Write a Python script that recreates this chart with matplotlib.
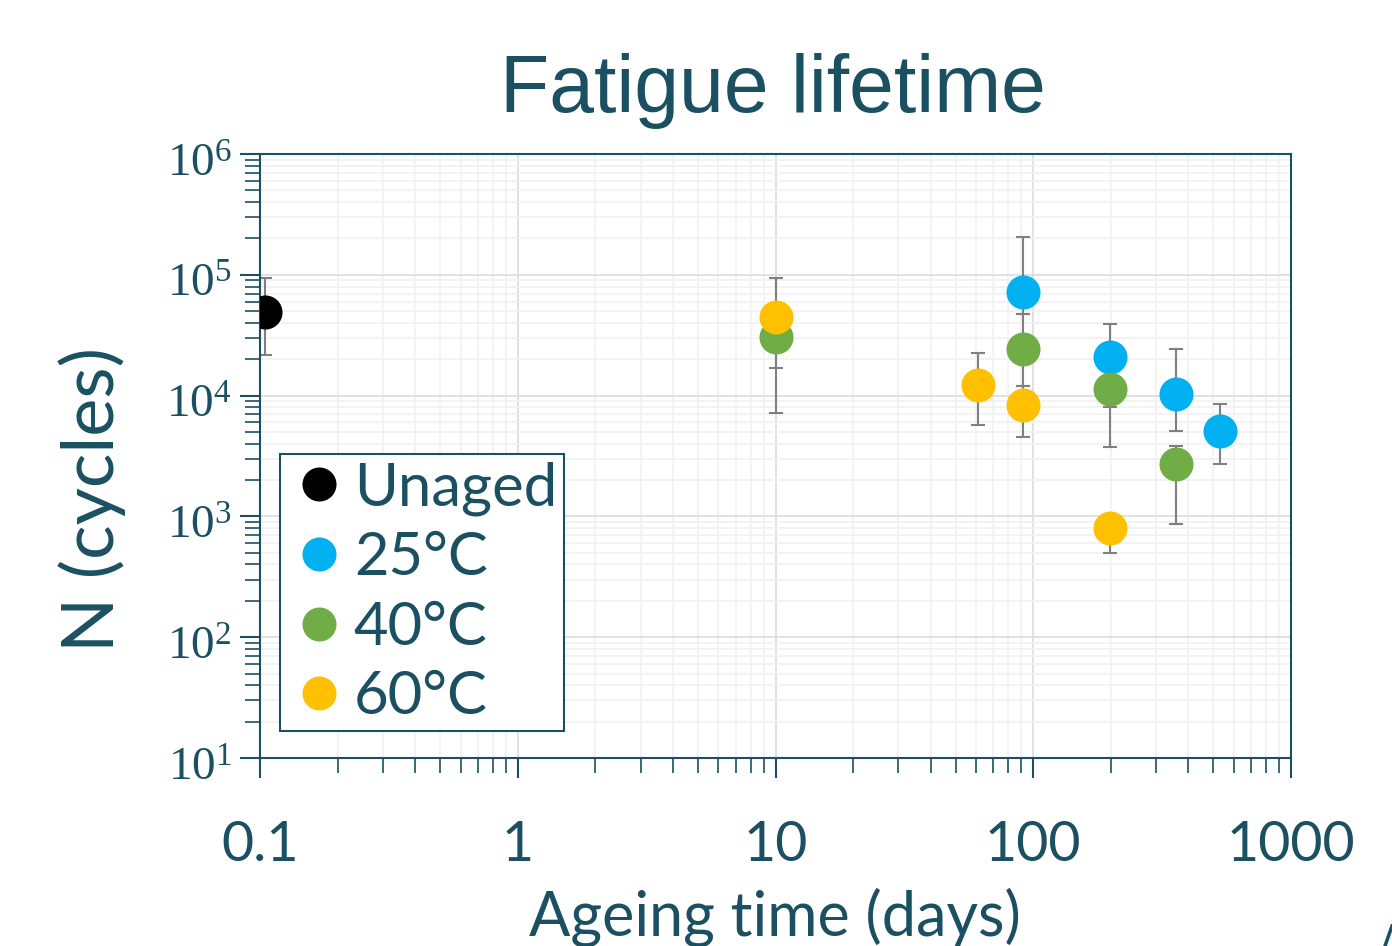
import matplotlib
matplotlib.use("Agg")
import matplotlib.pyplot as plt
import numpy as np
from matplotlib.lines import Line2D
from matplotlib.transforms import ScaledTranslation
from matplotlib.ticker import FixedLocator, FixedFormatter, LogLocator, NullFormatter

# ---------------- data ----------------
series_names = ["Unaged", "25°C", "40°C", "60°C"]
series_colors = ["#000000", "#00B0F0", "#70AD47", "#FFC000"]

unaged_x = [0.105]
unaged_y = [49000]
unaged_lo = [21500]
unaged_hi = [94500]

c25_x = [91, 198, 357, 530]
c25_y = [72000, 20700, 10400, 5060]
c25_lo = [47300, 8000, 5100, 2700]
c25_hi = [204000, 39200, 24400, 8570]

c40_x = [10, 91, 198, 357]
c40_y = [30400, 24200, 11300, 2700]
c40_lo = [7200, 12000, 3760, 870]
c40_hi = [93600, 47300, 19700, 3850]

c60_x = [10, 61, 91, 198]
c60_y = [44500, 12250, 8310, 796]
c60_lo = [16800, 5710, 4520, 494]
c60_hi = [93600, 22600, 12000, 900]

x_ticks = [0.1, 1, 10, 100, 1000]
x_tick_labels = ["0.1", "1", "10", "100", "1000"]
y_ticks = [1e1, 1e2, 1e3, 1e4, 1e5, 1e6]
y_tick_labels = [r"$\mathregular{10^{%d}}$" % e for e in range(1, 7)]

title_text = "Fatigue lifetime"
x_label = "Ageing time (days)"
y_label = "N (cycles)"

# ---------------- style ----------------
TEAL = "#1a5061"
W, H = 1392, 946
fig = plt.figure(figsize=(W / 100, H / 100), dpi=100)
ax = fig.add_axes([260 / W, 1 - 758 / H, 1031 / W, 604 / H])
ax.set_xscale("log")
ax.set_yscale("log")
ax.set_xlim(0.1, 1000)
ax.set_ylim(10, 1e6)

for s in ax.spines.values():
    s.set_color(TEAL)
    s.set_linewidth(1.5)

ax.xaxis.set_major_locator(FixedLocator(x_ticks))
ax.xaxis.set_major_formatter(FixedFormatter(x_tick_labels))
ax.xaxis.set_minor_locator(LogLocator(base=10, subs=np.arange(2, 10)))
ax.xaxis.set_minor_formatter(NullFormatter())
ax.yaxis.set_major_locator(FixedLocator(y_ticks))
ax.yaxis.set_major_formatter(FixedFormatter(y_tick_labels))
ax.yaxis.set_minor_locator(LogLocator(base=10, subs=np.arange(2, 10)))
ax.yaxis.set_minor_formatter(NullFormatter())

ax.tick_params(which="major", direction="out", length=14.4, width=1.5, color=TEAL)
ax.tick_params(which="minor", direction="out", length=10.8, width=1.2, color=TEAL)
ax.tick_params(axis="x", which="major", pad=30, labelsize=40, labelcolor=TEAL)
ax.tick_params(axis="y", which="major", pad=6, labelsize=34, labelcolor=TEAL)
for lab in ax.get_xticklabels():
    lab.set_family("Lato")
shift = ScaledTranslation(0, -6 / 100, fig.dpi_scale_trans)
for lab in ax.get_yticklabels():
    lab.set_family("Liberation Serif")
    lab.set_transform(lab.get_transform() + shift)

ax.set_axisbelow(True)
ax.grid(which="major", color="#dedede", linewidth=1.3)
ax.grid(which="minor", color="#f1f1f1", linewidth=1.2)

eb_kw = dict(fmt="none", ecolor="#808080", elinewidth=1.5, capsize=4.7, capthick=1.5, zorder=2)
all_series = [
    (unaged_x, unaged_y, unaged_lo, unaged_hi),
    (c25_x, c25_y, c25_lo, c25_hi),
    (c40_x, c40_y, c40_lo, c40_hi),
    (c60_x, c60_y, c60_lo, c60_hi),
]
for xs, ys, lo, hi in all_series:
    ys_a = np.array(ys, float)
    yerr = [ys_a - np.array(lo, float), np.array(hi, float) - ys_a]
    ax.errorbar(xs, ys, yerr=yerr, **eb_kw)
for (xs, ys, lo, hi), col in zip(all_series, series_colors):
    ax.plot(xs, ys, ls="none", marker="o", markersize=24.5, color=col,
            markeredgewidth=0, zorder=3)

handles = [Line2D([], [], ls="none", marker="o", markersize=24.5, color=c, markeredgewidth=0)
           for c in series_colors]
leg = ax.legend(handles, series_names, loc="upper left",
                bbox_to_anchor=(20 / 1031, (758 - 454) / 604), borderaxespad=0,
                frameon=True, fancybox=False, framealpha=1, edgecolor=TEAL,
                prop={"family": "Lato", "size": 43}, labelcolor=TEAL,
                handlelength=1.065, handletextpad=0.05, borderpad=0.12,
                labelspacing=0.26)
leg.get_frame().set_linewidth(1.5)

fig.text(773 / W, 1 - 112 / H, title_text, ha="center", va="baseline",
         fontsize=58, family="Liberation Sans", color=TEAL)
fig.text(775 / W, 1 - 935 / H, x_label, ha="center", va="baseline",
         fontsize=44, family="Lato", color=TEAL)
fig.text(92 / W, 1 - 499 / H, y_label, ha="center", va="center", rotation=90,
         fontsize=52, family="Lato", color=TEAL)

fig.add_artist(Line2D([1385 / W, 1392 / W], [0, 20 / H], color=TEAL, lw=2.5,
                      transform=fig.transFigure))

fig.savefig("out.png", dpi=100)
